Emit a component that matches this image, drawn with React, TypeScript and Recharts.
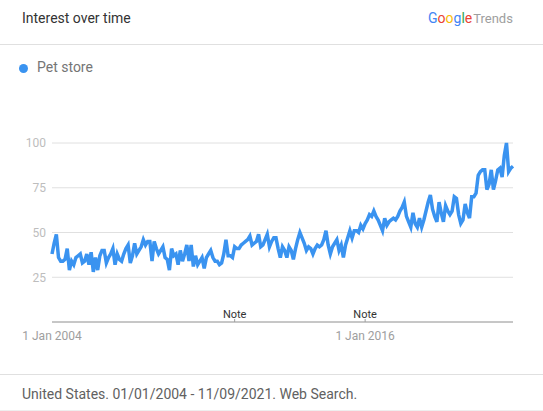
import { LineChart, Line, XAxis, YAxis, CartesianGrid, ReferenceDot } from 'recharts';

// monthly interest, Jan 2004 - Sep 2021
const petStore = [
  38, 44, 49, 36, 34, 34, 35, 41, 29, 34, 32, 36,
  37, 38, 33, 34, 38, 32, 39, 28, 36, 29, 37, 40,
  40, 33, 36, 38, 41, 32, 38, 35, 34, 38, 41, 43,
  33, 37, 44, 38, 40, 42, 46, 43, 45, 45, 34, 45,
  41, 38, 40, 42, 36, 35, 29, 41, 37, 38, 32, 40,
  34, 38, 43, 34, 43, 31, 37, 32, 34, 36, 30, 36,
  38, 40, 36, 34, 34, 32, 33, 38, 46, 37, 37, 36,
  42, 41, 41, 43, 44, 45, 46, 48, 43, 44, 45, 49,
  42, 43, 46, 49, 42, 45, 47, 47, 41, 36, 42, 40,
  36, 42, 40, 35, 41, 46, 50, 47, 44, 40, 42, 41,
  38, 41, 43, 42, 43, 46, 51, 43, 38, 42, 44, 46,
  40, 43, 36, 43, 47, 51, 47, 51, 51, 50, 54, 52,
  55, 57, 60, 59, 62, 59, 57, 54, 51, 58, 54, 56,
  57, 58, 57, 59, 62, 64, 67, 59, 56, 53, 61, 55,
  53, 58, 53, 57, 62, 67, 71, 63, 59, 56, 67, 61,
  56, 65, 62, 60, 62, 70, 69, 60, 55, 57, 66, 61,
  58, 70, 70, 72, 82, 84, 85, 85, 74, 77, 85, 74,
  79, 85, 86, 81, 93, 100, 84, 86, 87,
];

const months = petStore.map(
  (_, i) => `${2004 + Math.floor(i / 12)}-${String((i % 12) + 1).padStart(2, '0')}`
);
const xTicks = ['2004-01', '2016-01'];
const yTicks = [25, 50, 75, 100];
const notes = ['2011-01', '2016-01'];

const data = months.map((month, i) => ({ month, value: petStore[i] }));

const BLUE = '#3a93f0';
const font = 'Roboto, sans-serif';

const NoteMark = (props: any) => {
  const { cx, cy } = props;
  return (
    <g>
      <line x1={cx} y1={cy - 3} x2={cx} y2={cy} stroke="#9e9e9e" />
      <text x={cx} y={cy - 4} textAnchor="middle" fontSize={11} fill="#333" fontFamily={font}>
        Note
      </text>
    </g>
  );
};

const App = () => {
  return (
    <div style={{ position: 'absolute', left: 0, top: 0, width: 543, height: 411, background: '#fff', fontFamily: font }}>
      <div style={{ position: 'absolute', left: 22, top: 10, fontSize: 14, color: '#333' }}>Interest over time</div>
      <div style={{ position: 'absolute', left: 428, top: 10, fontSize: 14 }}>
        <span style={{ color: '#4285f4' }}>G</span>
        <span style={{ color: '#ea4335' }}>o</span>
        <span style={{ color: '#fbbc05' }}>o</span>
        <span style={{ color: '#4285f4' }}>g</span>
        <span style={{ color: '#34a853' }}>l</span>
        <span style={{ color: '#ea4335' }}>e</span>
        <span style={{ color: '#9e9e9e', fontSize: 13, marginLeft: 1 }}>Trends</span>
      </div>
      <div style={{ position: 'absolute', left: 0, top: 44, width: 543, height: 1, background: '#e0e0e0' }} />

      <div style={{ position: 'absolute', left: 19, top: 64, width: 9, height: 9, borderRadius: '50%', background: BLUE }} />
      <div style={{ position: 'absolute', left: 37, top: 59, fontSize: 14, color: '#757575' }}>Pet store</div>

      <div style={{ position: 'absolute', left: 0, top: 0 }}>
        <LineChart width={543} height={411} data={data} margin={{ top: 143, right: 30, bottom: 59, left: 0 }}>
          <CartesianGrid vertical={false} stroke="#e0e0e0" />
          <XAxis
            dataKey="month"
            ticks={xTicks}
            interval={0}
            tickFormatter={(m: string) => `1 Jan ${m.slice(0, 4)}`}
            height={30}
            tickLine={false}
            tickSize={0}
            tickMargin={9}
            axisLine={{ stroke: '#9e9e9e' }}
            tick={{ fill: '#9e9e9e', fontSize: 12, fontFamily: font }}
          />
          <YAxis
            domain={[0, 100]}
            ticks={yTicks}
            width={52}
            axisLine={false}
            tickLine={false}
            tickSize={0}
            tickMargin={6}
            tick={{ fill: '#bdbdbd', fontSize: 12, fontFamily: font }}
          />
          {notes.map((n) => (
            <ReferenceDot key={n} x={n} y={0} r={0} shape={NoteMark} />
          ))}
          <Line
            type="linear"
            dataKey="value"
            stroke={BLUE}
            strokeWidth={3.5}
            dot={false}
            isAnimationActive={false}
          />
        </LineChart>
      </div>

      <div style={{ position: 'absolute', left: 0, top: 374, width: 543, height: 1, background: '#e0e0e0' }} />
      <div style={{ position: 'absolute', left: 22, top: 386, fontSize: 14, color: '#616161' }}>
        United States. 01/01/2004 - 11/09/2021. Web Search.
      </div>
      <div style={{ position: 'absolute', left: 0, top: 410, width: 543, height: 1, background: '#eeeeee' }} />
    </div>
  );
};

export default App;
